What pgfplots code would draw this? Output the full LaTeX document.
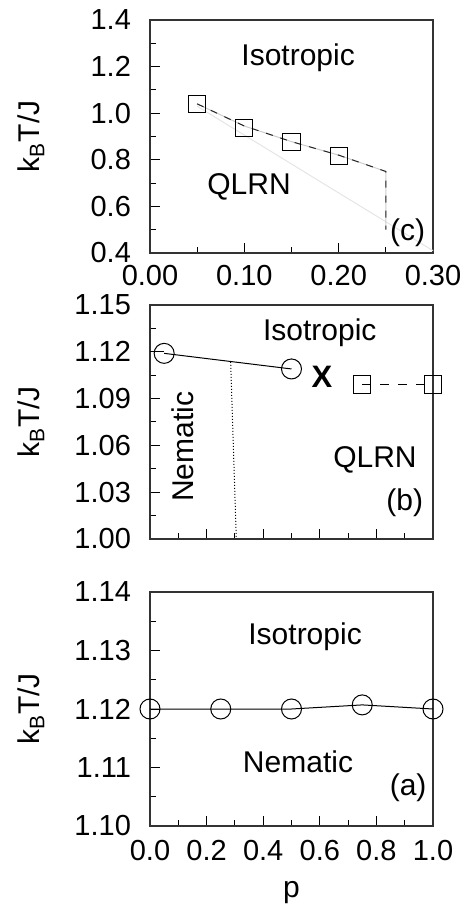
\documentclass[border=0pt]{standalone}
\usepackage{fontspec}
\setmainfont{Liberation Sans}
\usepackage{pgfplots}
\pgfplotsset{compat=1.18}

\tikzset{txt/.style={font=\fontsize{15}{17}\selectfont}}
\pgfplotsset{
  phase/.style={
    scale only axis, width=141.5pt, height=117pt,
    clip=false, scaled ticks=false,
    tick align=inside, xtick pos=bottom, ytick pos=left,
    major tick length=5pt, minor tick length=3pt,
    tick style={black, line width=0.5pt},
    axis line style={black!80, line width=0.6pt},
    tick label style={font=\fontsize{14.5}{16}\selectfont},
    /pgf/number format/assume math mode=true,
    /pgf/number format/fixed, /pgf/number format/fixed zerofill,
    yticklabel style={xshift=-6pt},
    xticklabel style={yshift=-2.5pt},
    label style={font=\fontsize{15}{17}\selectfont},
    ylabel={k\textsubscript{B}T/J},
    ylabel style={at={(axis description cs:-0.42,0.5)}, anchor=center},
    every axis plot/.append style={black, line width=0.5pt},
  },
}

\begin{document}
\begin{tikzpicture}
\path[use as bounding box] (0,0) rectangle (233pt,453.5pt);

% (c)
\begin{axis}[phase, at={(75pt,327pt)}, anchor=south west, height=116.5pt,
  xmin=0, xmax=0.3, ymin=0.4, ymax=1.4,
  xtick={0,0.1,0.2,0.3}, minor x tick num=1,
  ytick={0.4,0.6,0.8,1.0,1.2,1.4}, minor y tick num=1,
  xticklabel style={/pgf/number format/precision=2},
  yticklabel style={/pgf/number format/precision=1}]
  \addplot[black!10, mark=none] coordinates {(0.05,1.03) (0.30,0.41)};
  \addplot[black!20, mark=none] coordinates {
    (0.05,1.04) (0.10,0.945) (0.15,0.878) (0.20,0.82) (0.25,0.75) (0.25,0.50)};
  \addplot[black!85, dash pattern=on 3.5pt off 4pt, mark=none] coordinates {
    (0.05,1.04) (0.10,0.945) (0.15,0.878) (0.20,0.82) (0.25,0.75) (0.25,0.50)};
  \addplot[only marks, mark=square, mark size=4.3pt, mark options={solid, line width=0.5pt}] coordinates {
    (0.05,1.039) (0.10,0.935) (0.15,0.878) (0.20,0.818)};
  \node[txt] at (axis cs:0.157,1.237) {Isotropic};
  \node[txt] at (axis cs:0.105,0.683) {QLRN};
  \node[txt] at (axis cs:0.273,0.486) {(c)};
\end{axis}

% (b)
\begin{axis}[phase, at={(75pt,184pt)}, anchor=south west,
  xmin=0, xmax=1, ymin=1.00, ymax=1.15,
  xtick={0,0.2,0.4,0.6,0.8,1.0}, minor x tick num=1, xticklabels={},
  ytick={1.00,1.03,1.06,1.09,1.12,1.15}, minor y tick num=1,
  yticklabel style={/pgf/number format/precision=2}]
  \addplot[dash pattern=on 3pt off 2pt, mark=none] coordinates {(0,1.12) (0.05,1.12)};
  \addplot[mark=o, mark size=5pt, mark options={solid}] coordinates {(0.05,1.119) (0.5,1.109)};
  \addplot[densely dotted, mark=none] coordinates {(0.285,1.1135) (0.305,1.0)};
  \addplot[dash pattern=on 4.5pt off 4.5pt, mark=square, mark size=4.3pt, mark options={solid}] coordinates {
    (0.75,1.099) (1.0,1.099)};
  \node[txt] at (axis cs:0.60,1.132) {Isotropic};
  \node[txt, rotate=90] at (axis cs:0.117,1.059) {Nematic};
  \node[font=\fontsize{15.5}{17}\selectfont\bfseries] at (axis cs:0.608,1.104) {X};
  \node[txt] at (axis cs:0.795,1.051) {QLRN};
  \node[txt] at (axis cs:0.90,1.023) {(b)};
\end{axis}

% (a)
\begin{axis}[phase, at={(75pt,40.5pt)}, anchor=south west,
  xmin=0, xmax=1, ymin=1.10, ymax=1.14,
  xtick={0,0.2,0.4,0.6,0.8,1.0}, minor x tick num=1,
  ytick={1.10,1.11,1.12,1.13,1.14}, minor y tick num=1,
  xticklabel style={/pgf/number format/precision=1, yshift=-1pt},
  yticklabel style={/pgf/number format/precision=2},
  xlabel={p},
  xlabel style={at={(axis description cs:0.5,0)}, anchor=base, yshift=-35.5pt}]
  \addplot[mark=o, mark size=5pt, mark options={solid}] coordinates {
    (0,1.12) (0.25,1.12) (0.5,1.12) (0.75,1.1207) (1.0,1.12)};
  \node[txt] at (axis cs:0.548,1.1323) {Isotropic};
  \node[txt] at (axis cs:0.523,1.111) {Nematic};
  \node[txt] at (axis cs:0.912,1.1065) {(a)};
\end{axis}
\end{tikzpicture}
\end{document}
